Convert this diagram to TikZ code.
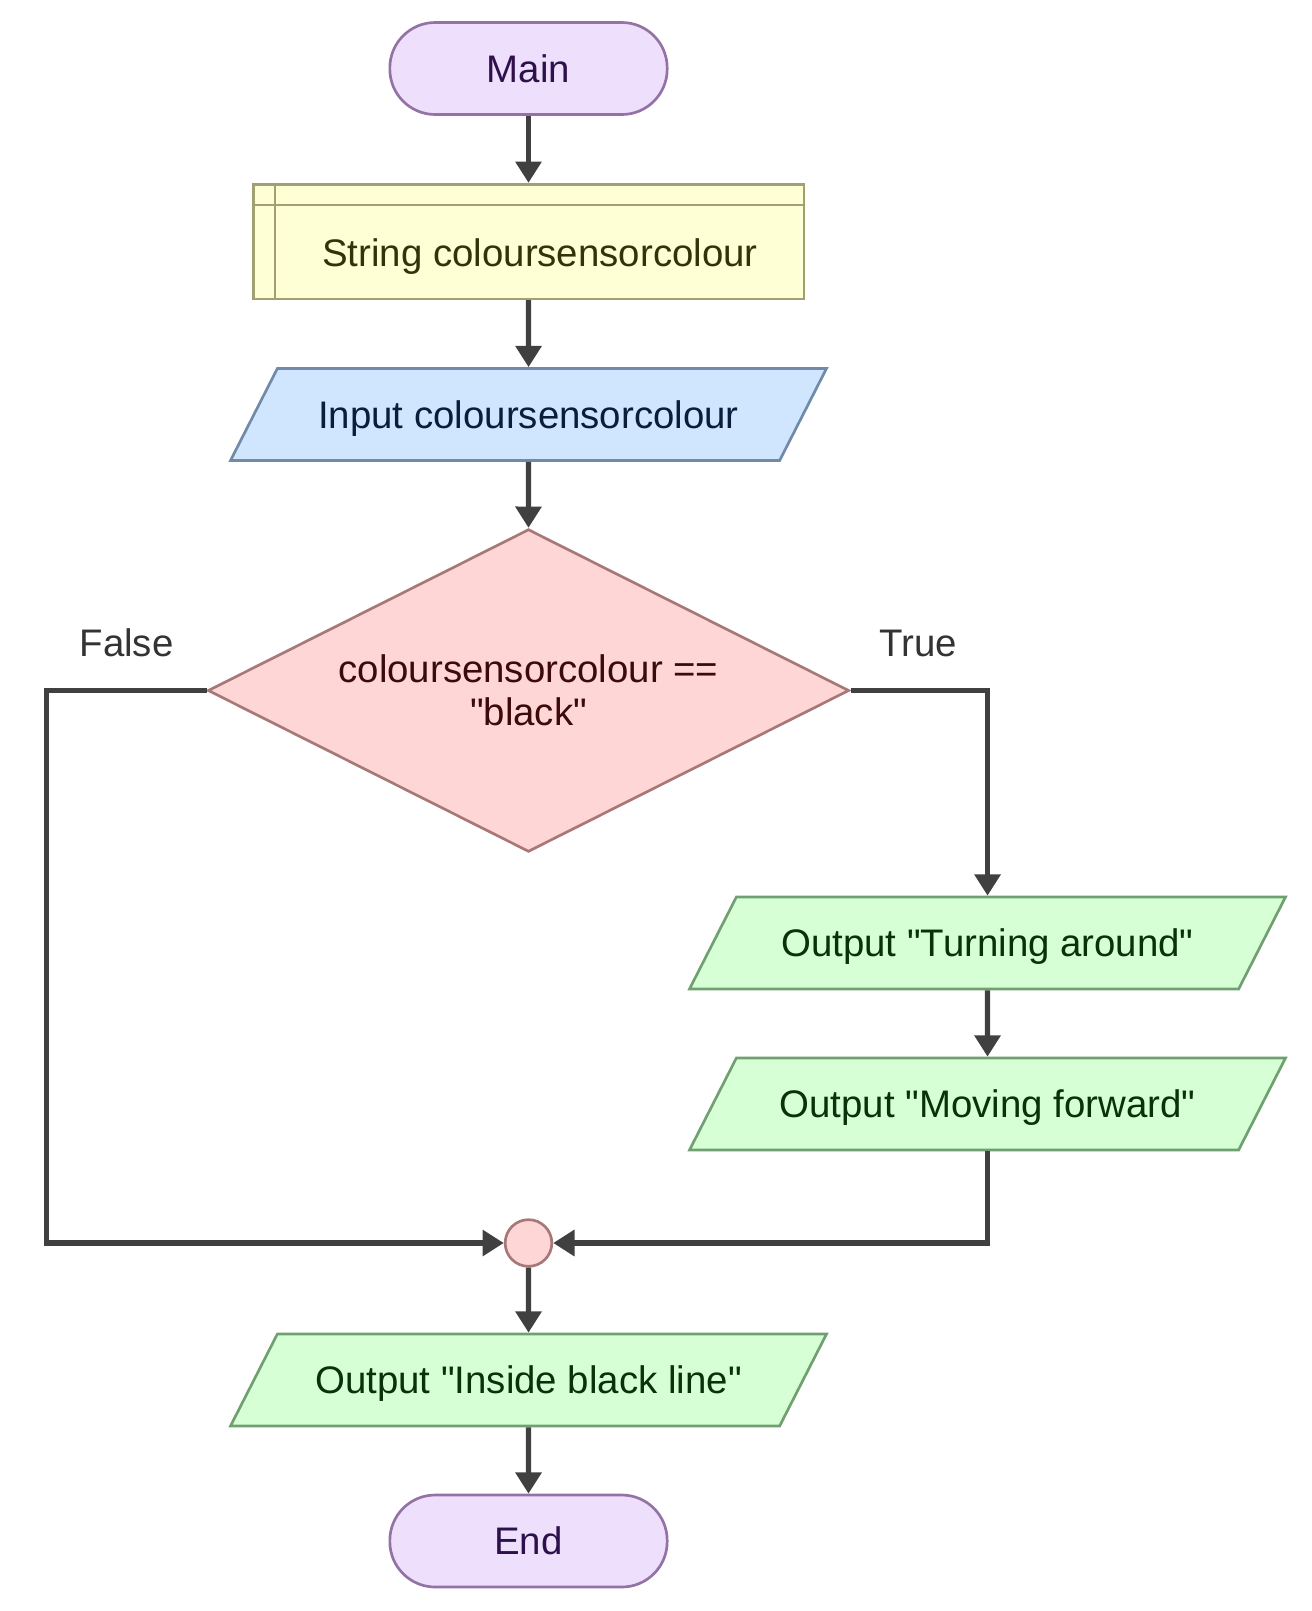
\documentclass[tikz,border=0pt]{standalone}
\definecolor{termfill}{RGB}{238, 223, 253}
\definecolor{termline}{RGB}{148, 114, 166}
\definecolor{termtext}{RGB}{46, 16, 74}
\definecolor{declfill}{RGB}{255, 255, 214}
\definecolor{declline}{RGB}{160, 160, 112}
\definecolor{decltext}{RGB}{51, 51, 10}
\definecolor{inputfill}{RGB}{208, 230, 255}
\definecolor{inputline}{RGB}{112, 138, 168}
\definecolor{inputtext}{RGB}{10, 30, 60}
\definecolor{condfill}{RGB}{255, 214, 214}
\definecolor{condline}{RGB}{168, 120, 120}
\definecolor{condtext}{RGB}{60, 10, 10}
\definecolor{outfill}{RGB}{214, 255, 214}
\definecolor{outborder}{RGB}{112, 160, 112}
\definecolor{outtext}{RGB}{10, 50, 10}
\definecolor{flowline}{RGB}{64, 64, 64}
\definecolor{lbltext}{RGB}{51, 51, 51}
\usepackage{fontspec}
\setmainfont{Liberation Sans}[Ligatures=TeXOff]
\usepackage{tikz}
\usetikzlibrary{shapes.geometric, arrows.meta, positioning, calc}

\begin{document}
\begin{tikzpicture}[x=0.75pt, y=-0.75pt,
  every node/.style={font=\fontsize{28.8}{32.25}\selectfont},
  oneline/.style={text height=20.6pt, text depth=0pt},
  terminal/.style={oneline, draw=termline, fill=termfill, text=termtext, line width=2pt, rounded corners=34pt, minimum width=208pt, minimum height=69pt},
  declbox/.style={draw=declline, fill=declfill, line width=2pt, minimum width=413pt, minimum height=86pt},
  iobox/.style={oneline, trapezium, trapezium left angle=63, trapezium right angle=117, trapezium stretches body, line width=2pt, minimum width=447pt, inner xsep=0pt, inner ysep=24.2pt},
  inbox/.style={iobox, draw=inputline, fill=inputfill, text=inputtext},
  outbox/.style={iobox, draw=outborder, fill=outfill, text=outtext},
  decision/.style={diamond, aspect=2, draw=condline, fill=condfill, text=condtext, line width=2pt, minimum width=481pt, minimum height=242pt, inner sep=0pt, align=center},
  junction/.style={circle, draw=condline, fill=condfill, line width=2pt, minimum size=35pt, inner sep=0pt},
  branch/.style={oneline, text=lbltext},
  flow/.style={draw=flowline, line width=4pt, -{Triangle[length=16pt, width=19pt]}},
  ]
  \useasboundingbox (0, 0) rectangle (1312, 1611);

  % nodes
  \node[terminal] (main) at (528.5, 68.5) {Main};
  \node[declbox] (decl) at (528.5, 241.5) {};
  \draw[draw=declline, line width=2pt] ($(decl.north west)+(23, 0)$) -- ($(decl.south west)+(23, 0)$);
  \draw[draw=declline, line width=2pt] ($(decl.north west)+(0, 22)$) -- ($(decl.north east)+(0, 22)$);
  \node[oneline, text=decltext] (decltxt) at (540, 253) {String coloursensorcolour};
  \node[inbox] (input) at (528.5, 414.5) {Input coloursensorcolour};
  \node[decision] (cond) at (528.5, 690.5) {coloursensorcolour ==\\"black"};
  \node[outbox] (turn) at (987.5, 943) {Output "Turning around"};
  \node[outbox] (move) at (987.5, 1104) {Output "Moving forward"};
  \node[junction] (join) at (528.5, 1243) {};
  \node[outbox] (inside) at (528.5, 1380) {Output "Inside black line"};
  \node[terminal] (finish) at (528.5, 1541) {End};

  \node[branch] (lblfalse) at (126.5, 643) {False};
  \node[branch] (lbltrue) at (918.5, 643) {True};

  % connectors
  \draw[flow] (main) -- (decl);
  \draw[flow] (decl) -- (input);
  \draw[flow] (input) -- (cond);
  \draw[flow] (cond.west) -- ++(-160, 0) |- (join.west);
  \draw[flow] (cond.east) -| (turn.north);
  \draw[flow] (turn) -- (move);
  \draw[flow] (move.south) |- (join.east);
  \draw[flow] (join) -- (inside);
  \draw[flow] (inside) -- (finish);
\end{tikzpicture}
\end{document}
